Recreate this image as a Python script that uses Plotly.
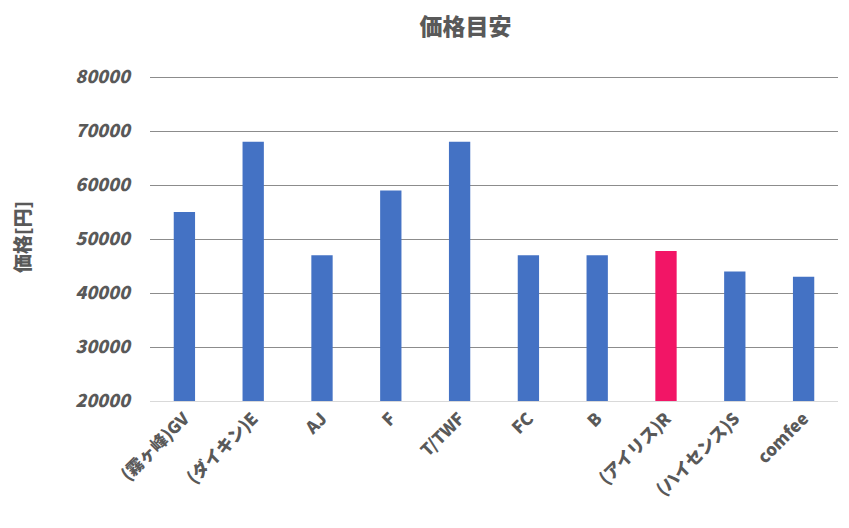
import plotly.graph_objects as go

categories = ["(霧ヶ峰)GV", "(ダイキン)E", "AJ", "F", "T/TWF", "FC", "B", "(アイリス)R", "(ハイセンス)S", "comfee"]
prices = [55000, 68000, 47000, 59000, 68000, 47000, 47000, 47800, 44000, 43000]
highlight = "(アイリス)R"
y_ticks = [20000, 30000, 40000, 50000, 60000, 70000, 80000]

colors = ["#F21566" if c == highlight else "#4472C4" for c in categories]

FONT = "Noto Sans CJK JP"
GREY = "#595959"

fig = go.Figure(go.Bar(x=categories, y=prices, marker=dict(color=colors, line=dict(width=0))))

fig.update_layout(
    width=849, height=528,
    margin=dict(l=142, r=19, t=65, b=135, autoexpand=False),
    paper_bgcolor="white", plot_bgcolor="white",
    bargap=0.69,
    showlegend=False,
    title=dict(text="価格目安", x=0.539, xref="container", xanchor="center",
               y=0.964, yref="container", yanchor="middle",
               font=dict(family=FONT, size=23, color=GREY, weight=900)),
    font=dict(family=FONT, color=GREY),
)
fig.update_yaxes(
    range=[20000, 20000 + 60000 * 328 / 324], tickvals=y_ticks, ticktext=[str(v) for v in y_ticks],
    showgrid=True, gridcolor="#8c8c8c", gridwidth=1, zeroline=False,
    tickfont=dict(family=FONT, size=18, color=GREY, weight=900, style="italic"),
    ticklabelstandoff=19,
    title=dict(text="価格[円]", font=dict(family=FONT, size=19, color=GREY, weight=900), standoff=56),
)
fig.update_xaxes(
    tickangle=-45, showline=True, linecolor="#d9d9d9", linewidth=1,
    tickfont=dict(family=FONT, size=17, color=GREY, weight=900),
)

fig.write_html("out.html")
